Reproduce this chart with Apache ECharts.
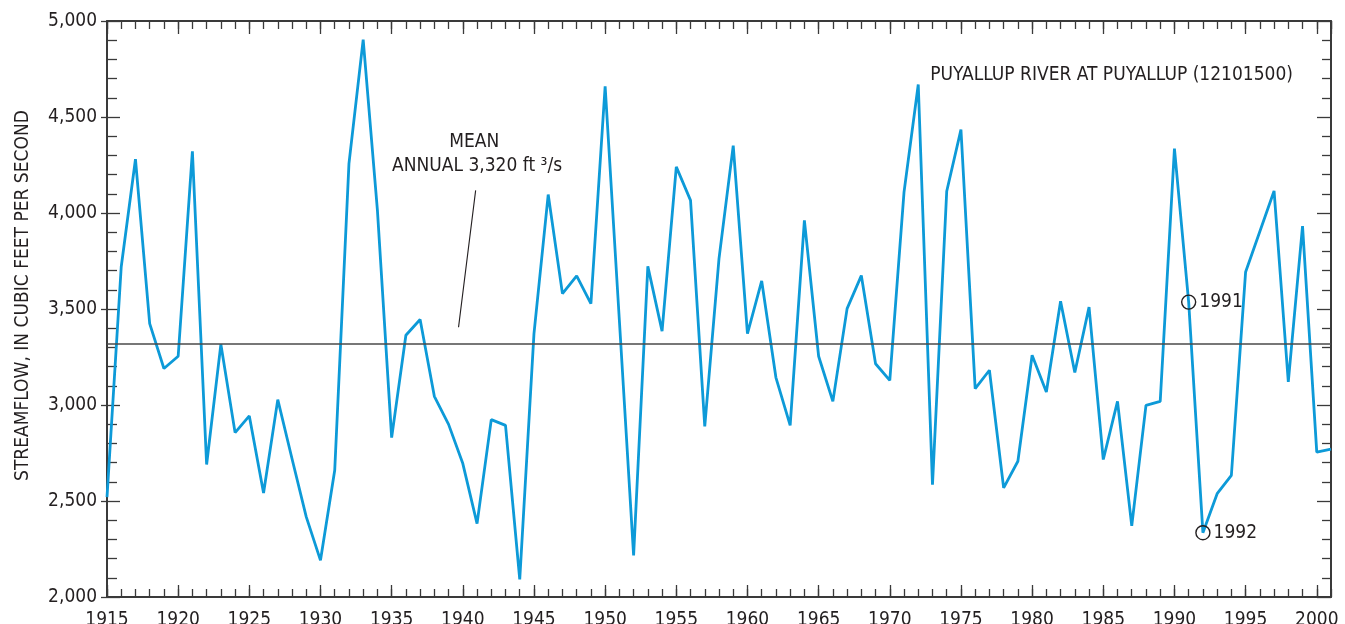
<!DOCTYPE html>
<html>
<head>
<meta charset="utf-8">
<title>Puyallup River at Puyallup — annual streamflow</title>
<script src="https://cdn.jsdelivr.net/npm/echarts@6/dist/echarts.min.js"></script>
<style>
  html, body { margin: 0; padding: 0; background: #fff; }
  #chart { width: 1345px; height: 624px; }
</style>
</head>
<body>
<div id="chart"></div>
<script>
// Water years on the horizontal axis
const years = [
  1915, 1916, 1917, 1918, 1919, 1920, 1921, 1922, 1923, 1924,
  1925, 1926, 1927, 1928, 1929, 1930, 1931, 1932, 1933, 1934,
  1935, 1936, 1937, 1938, 1939, 1940, 1941, 1942, 1943, 1944,
  1945, 1946, 1947, 1948, 1949, 1950, 1951, 1952, 1953, 1954,
  1955, 1956, 1957, 1958, 1959, 1960, 1961, 1962, 1963, 1964,
  1965, 1966, 1967, 1968, 1969, 1970, 1971, 1972, 1973, 1974,
  1975, 1976, 1977, 1978, 1979, 1980, 1981, 1982, 1983, 1984,
  1985, 1986, 1987, 1988, 1989, 1990, 1991, 1992, 1993, 1994,
  1995, 1996, 1997, 1998, 1999, 2000, 2001
];

// Annual mean streamflow, cubic feet per second
const flow = [
  2520, 3720, 4280, 3424, 3190, 3254, 4321, 2690, 3316, 2856,
  2943, 2542, 3028, 2720, 2417, 2191, 2660, 4257, 4903, 4014,
  2830, 3363, 3445, 3045, 2899, 2695, 2382, 2924, 2894, 2092,
  3372, 4096, 3580, 3672, 3528, 4660, 3440, 2217, 3722, 3385,
  4240, 4066, 2889, 3762, 4351, 3372, 3646, 3143, 2894, 3962,
  3254, 3019, 3502, 3674, 3215, 3128, 4109, 4669, 2585, 4113,
  4434, 3085, 3181, 2568, 2707, 3259, 3068, 3540, 3169, 3510,
  2716, 3019, 2370, 2998, 3019, 4335, 3536, 2335, 2538, 2634,
  3693, 3904, 4115, 3120, 3932, 2755, 2770
];

// Long-term mean annual flow
const meanAnnual = 3320;

// Years called out with a circle
const markedYears = [1991, 1992];

// Axis ranges and tick steps
const yearMin = 1915, yearMax = 2001, yearStep = 5;
const flowMin = 2000, flowMax = 5000, flowStep = 500;

const titleText = 'PUYALLUP RIVER AT PUYALLUP (12101500)';
const yAxisName = 'STREAMFLOW, IN CUBIC FEET PER SECOND';
const meanLine1 = 'MEAN';
const meanLine2 = 'ANNUAL 3,320 ft \u00B3/s';

const FONT = '"DejaVu Sans Condensed", "DejaVu Sans", sans-serif';
const INK = '#231f20';
const FRAME = '#3a3a3a';
const BLUE = '#0d9ad8';

const seriesData = years.map((y, i) => [y, flow[i]]);
const markedData = markedYears.map(y => [y, flow[years.indexOf(y)]]);

const chart = echarts.init(document.getElementById('chart'), null, { renderer: 'canvas' });

function xAx(pos, step, len, showLine, showLabel) {
  return {
    type: 'value', position: pos, min: yearMin, max: yearMax, interval: step,
    axisLine: { show: showLine, onZero: false, lineStyle: { color: FRAME, width: 2 } },
    axisTick: { show: true, inside: true, length: len, lineStyle: { color: FRAME, width: 1.3 } },
    axisLabel: {
      show: showLabel, showMaxLabel: false, margin: 14,
      color: INK, fontSize: 19, fontFamily: FONT,
      formatter: v => (v % yearStep === 0 ? String(v) : '')
    },
    splitLine: { show: false }
  };
}

function yAx(pos, inside, len, minorLen, showLine, showLabel) {
  return {
    type: 'value', position: pos, min: flowMin, max: flowMax, interval: flowStep,
    axisLine: { show: showLine, onZero: false, lineStyle: { color: FRAME, width: 2 } },
    axisTick: { show: true, inside: inside, length: len, lineStyle: { color: FRAME, width: 1.3 } },
    minorTick: { show: minorLen > 0, splitNumber: 5, length: minorLen, lineStyle: { color: FRAME, width: 1.3 } },
    axisLabel: {
      show: showLabel, margin: 10, color: INK, fontSize: 19, fontFamily: FONT,
      formatter: v => v.toLocaleString('en-US')
    },
    splitLine: { show: false }
  };
}

chart.setOption({
  animation: false,
  backgroundColor: '#ffffff',
  title: {
    text: titleText, right: 47, top: 61,
    textStyle: { color: INK, fontSize: 19, fontWeight: 'normal', fontFamily: FONT }
  },
  grid: { left: 107, right: 14, top: 21, bottom: 27, containLabel: false, outerBoundsMode: 'none' },
  xAxis: [
    xAx('bottom', yearStep, 12, true, true),
    xAx('bottom', 1, 8, false, false),
    xAx('top', yearStep, 13, true, false),
    xAx('top', 1, 8, false, false)
  ],
  yAxis: [
    yAx('left', true, 13, 10, true, true),
    yAx('left', false, 6, 0, false, false),
    yAx('right', true, 14, 9, true, false)
  ],
  series: [
    {
      type: 'line', data: seriesData, xAxisIndex: 0, yAxisIndex: 0,
      showSymbol: false, symbol: 'none',
      lineStyle: { color: BLUE, width: 2.8 },
      z: 3,
      markLine: {
        silent: true, symbol: ['none', 'none'], animation: false,
        label: { show: false },
        lineStyle: { color: '#4a4a4a', width: 1.6, type: 'solid' },
        data: [{ yAxis: meanAnnual }]
      }
    },
    {
      type: 'scatter', data: markedData, xAxisIndex: 0, yAxisIndex: 0,
      symbol: 'circle', symbolSize: 14, z: 4,
      itemStyle: { color: 'rgba(0,0,0,0)', borderColor: INK, borderWidth: 1.4, opacity: 1 },
      label: {
        show: true, position: 'right', distance: 3,
        color: INK, fontSize: 19, fontFamily: FONT,
        formatter: p => String(p.value[0])
      },
      emphasis: { disabled: true }
    }
  ]
});

// Vertical axis title and mean-flow callout
const toPx = (yr, v) => chart.convertToPixel({ xAxisIndex: 0, yAxisIndex: 0 }, [yr, v]);
const t1 = toPx(1940.8, 4368);
const t2 = toPx(1941.0, 4243);
const l1 = toPx(1940.9, 4118);
const l2 = toPx(1939.7, 3405);
const nameAt = toPx(yearMin, 3570);

chart.setOption({
  graphic: [
    {
      type: 'text', x: 23, y: nameAt[1], rotation: Math.PI / 2, silent: true,
      style: { text: yAxisName, fill: INK, fontSize: 19, fontFamily: FONT, align: 'center', verticalAlign: 'middle' }
    },
    {
      type: 'text', x: t1[0], y: t1[1], silent: true,
      style: { text: meanLine1, fill: INK, fontSize: 19, fontFamily: FONT, align: 'center', verticalAlign: 'middle' }
    },
    {
      type: 'text', x: t2[0], y: t2[1], silent: true,
      style: { text: meanLine2, fill: INK, fontSize: 19, fontFamily: FONT, align: 'center', verticalAlign: 'middle' }
    },
    {
      type: 'line', silent: true,
      shape: { x1: l1[0], y1: l1[1], x2: l2[0], y2: l2[1] },
      style: { stroke: INK, lineWidth: 1.1 }
    }
  ]
});
</script>
</body>
</html>
